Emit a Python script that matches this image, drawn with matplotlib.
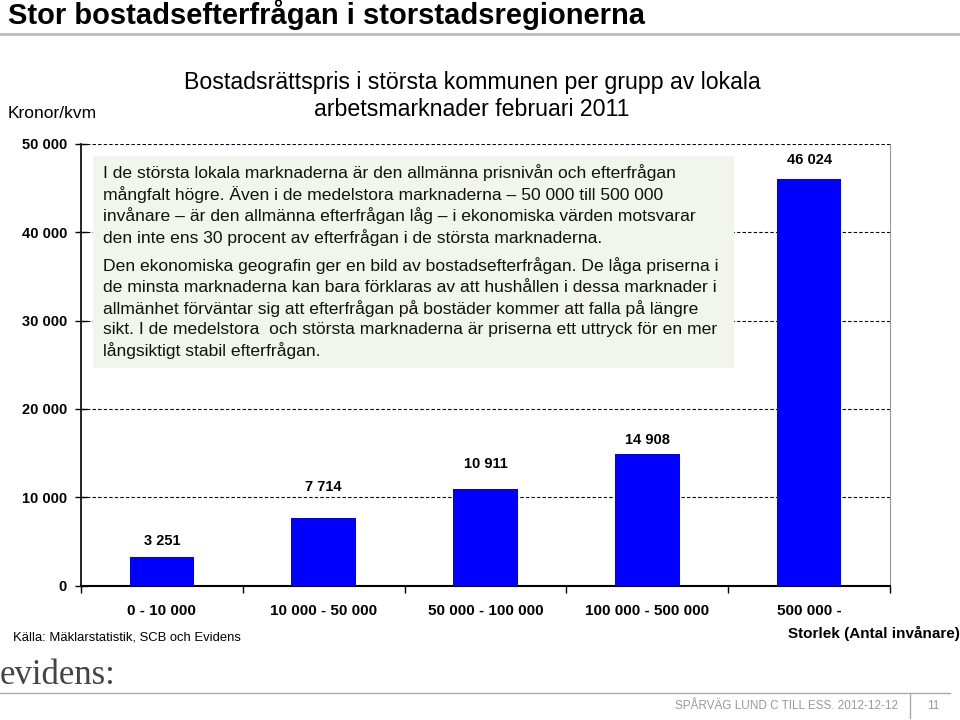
import matplotlib
matplotlib.use("Agg")
import matplotlib.pyplot as plt
from matplotlib.patches import Rectangle
from matplotlib.lines import Line2D

categories = ["0 - 10 000", "10 000 - 50 000", "50 000 - 100 000",
              "100 000 - 500 000", "500 000 -"]
values = [3251, 7714, 10911, 14908, 46024]
yticks = [0, 10000, 20000, 30000, 40000, 50000]

title = "Stor bostadsefterfrågan i storstadsregionerna"
subtitle = ["Bostadsrättspris i största kommunen per grupp av lokala",
            "arbetsmarknader februari 2011"]
para1 = ["I de största lokala marknaderna är den allmänna prisnivån och efterfrågan",
         "mångfalt högre. Även i de medelstora marknaderna – 50 000 till 500 000",
         "invånare – är den allmänna efterfrågan låg – i ekonomiska värden motsvarar",
         "den inte ens 30 procent av efterfrågan i de största marknaderna."]
para2 = ["Den ekonomiska geografin ger en bild av bostadsefterfrågan. De låga priserna i",
         "de minsta marknaderna kan bara förklaras av att hushållen i dessa marknader i",
         "allmänhet förväntar sig att efterfrågan på bostäder kommer att falla på längre",
         "sikt. I de medelstora  och största marknaderna är priserna ett uttryck för en mer",
         "långsiktigt stabil efterfrågan."]

# label offsets above each bar (px), as placed in the original slide
label_off = [16, 31, 25, 14, 19]

W, H = 960, 720
SANS = ["Liberation Sans", "DejaVu Sans"]


def fx(x):
    return x / W


def fy(y):
    return 1 - y / H


def fmt(v):
    return f"{v:,}".replace(",", " ")


plt.rcParams["font.family"] = SANS
fig = plt.figure(figsize=(9.6, 7.2), dpi=100)

# axes region in pixels
x0, x1, ytop, ybot = 81, 890, 143.7, 585.7
ax = fig.add_axes([fx(x0), fy(ybot), fx(x1 - x0), (ybot - ytop) / H])

pos = list(range(len(values)))
ax.bar(pos, values, width=0.4, color="#0000FF", zorder=3)
for p, v, off in zip(pos, values, label_off):
    ax.annotate(fmt(v), (p, v), xytext=(0, off * 0.72), textcoords="offset points",
                ha="center", va="center", fontsize=10.5, fontweight="bold")

ax.set_xlim(-0.5, len(values) - 0.5)
ax.set_ylim(0, 50000)
ax.set_yticks(yticks)
ax.set_yticklabels([fmt(t) for t in yticks], fontsize=10.5, fontweight="bold")
for t in yticks[1:]:
    ax.axhline(t, color="black", lw=0.8, ls=(0, (3, 2)), zorder=1)

ax.set_xticks([p - 0.5 for p in pos] + [len(values) - 0.5])
ax.set_xticklabels([])
ax.set_xticks(pos, minor=True)
ax.set_xticklabels(categories, minor=True, fontsize=11, fontweight="bold")
ax.tick_params(axis="x", which="minor", length=0, pad=13)
ax.tick_params(axis="x", which="major", length=5, direction="out", width=1)
ax.tick_params(axis="y", length=8, direction="inout", width=1, pad=6)

ax.spines["top"].set_visible(False)
ax.spines["right"].set_color("#999999")
ax.spines["left"].set_linewidth(1.2)
ax.spines["bottom"].set_linewidth(1.5)

# text box
fig.patches.append(Rectangle((fx(93), fy(368)), fx(734 - 93), (368 - 156) / H,
                             transform=fig.transFigure, facecolor="#F2F5EC",
                             edgecolor="none", zorder=2))
for i, line in enumerate(para1):
    fig.text(fx(103), fy(173 + i * 21.4), line, fontsize=12.6, va="center",
             color="#111111", zorder=3)
for i, line in enumerate(para2):
    fig.text(fx(103), fy(266 + i * 21.2), line, fontsize=12.6, va="center",
             color="#111111", zorder=3)

# header
fig.text(fx(8), fy(15), title, fontsize=21, fontweight="bold", va="center")
fig.add_artist(Line2D([0, 1], [fy(34), fy(34)], color="#BBBBBB", lw=2))
for i, line in enumerate(subtitle):
    fig.text(fx(472), fy(83 + i * 27), line, fontsize=16.7, ha="center",
             va="center")
fig.text(fx(8), fy(113), "Kronor/kvm", fontsize=12.5, va="center")

fig.text(fx(960), fy(633), "Storlek (Antal invånare)", fontsize=11,
         fontweight="bold", ha="right", va="center")
fig.text(fx(13), fy(638), "Källa: Mäklarstatistik, SCB och Evidens", fontsize=9.4,
         va="center")

# footer
fig.text(fx(0), fy(676), "evidens:", fontsize=25, family=["Liberation Serif"],
         color="#444444", va="center")
fig.add_artist(Line2D([0, fx(950)], [fy(693), fy(693)], color="#AAAAAA", lw=1))
fig.add_artist(Line2D([fx(910), fx(910)], [fy(693), fy(718)], color="#AAAAAA", lw=1))
fig.text(fx(898), fy(706), "SPÅRVÄG LUND C TILL ESS. 2012-12-12", fontsize=8.5,
         color="#999999", ha="right", va="center")
fig.text(fx(933), fy(706), "11", fontsize=8.5, color="#999999", ha="center",
         va="center")

fig.savefig("out.png", dpi=100)
